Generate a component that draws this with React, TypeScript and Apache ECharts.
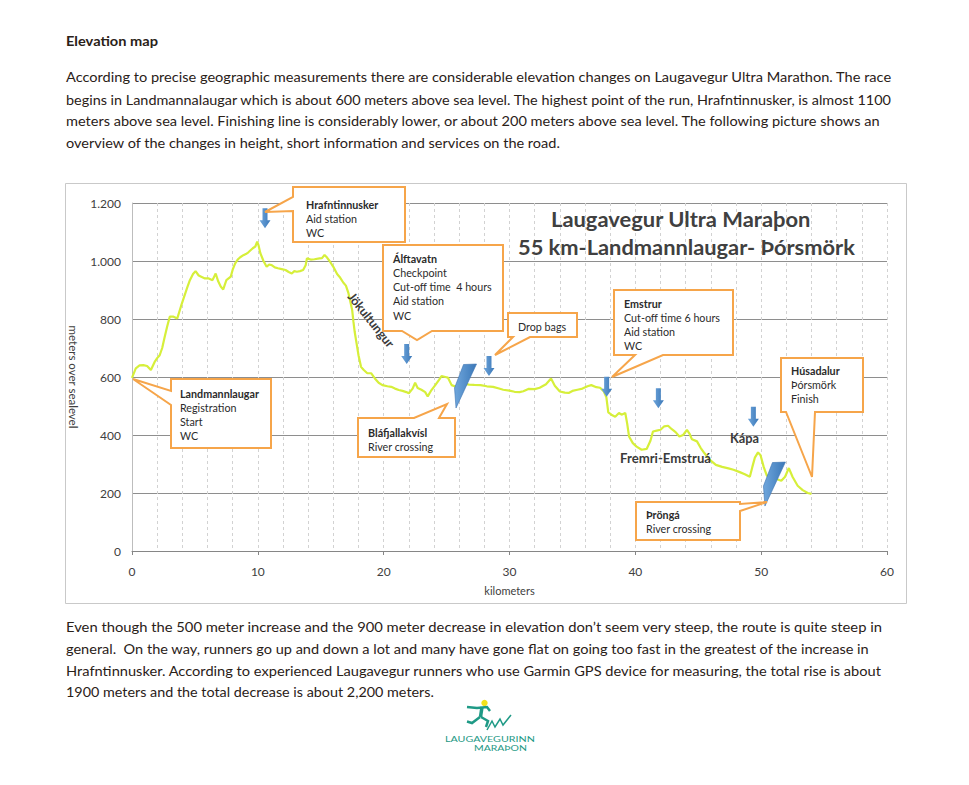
import React, { useEffect, useRef } from "react";
import * as echarts from "echarts";

// ---------- DATA ----------
const kmData = [
  0, 0.3, 0.6, 0.9, 1.2, 1.5, 1.8, 2.0, 2.2, 2.4, 2.6, 2.8, 3.0, 3.3, 3.6, 3.9, 4.1, 4.4, 4.6, 4.85,
  5.05, 5.3, 5.5, 5.8, 6.1, 6.4, 6.65, 6.85, 7.05, 7.25, 7.5, 7.85, 8.0, 8.2, 8.4, 8.6, 8.85, 9.05, 9.25, 9.4,
  9.6, 9.8, 9.95, 10.05, 10.2, 10.45, 10.7, 10.9, 11.1, 11.35, 11.6, 11.9, 12.2, 12.45, 12.7, 12.9, 13.1, 13.35, 13.6, 13.8,
  13.9, 14.2, 14.5, 14.9, 15.1, 15.3, 15.5, 15.7, 16.0, 16.3, 16.5, 16.8, 17.0, 17.2, 17.35, 17.5, 17.6, 17.7, 17.85, 18.0,
  18.2, 18.4, 18.7, 19.0, 19.3, 19.6, 19.9, 20.3, 20.6, 20.9, 21.2, 21.5, 21.8, 22.0, 22.3, 22.5, 22.7, 23.0, 23.3, 23.5,
  23.8, 24.1, 24.4, 24.6, 24.9, 25.1, 25.4, 25.7, 26.0, 26.4, 26.8, 27.2, 27.7, 28.2, 28.7, 29.1, 29.5, 30.0, 30.4, 30.8,
  31.1, 31.5, 32.0, 32.4, 32.9, 33.3, 33.6, 34.0, 34.4, 34.7, 35.0, 35.4, 35.8, 36.2, 36.5, 36.9, 37.2, 37.5, 37.7, 37.85,
  38.1, 38.4, 38.7, 38.9, 39.2, 39.35, 39.5, 39.8, 40.1, 40.5, 40.9, 41.2, 41.4, 41.7, 42.0, 42.3, 42.6, 42.9, 43.2, 43.5,
  43.8, 44.1, 44.3, 44.5, 44.9, 45.2, 45.5, 45.9, 46.4, 46.9, 47.4, 47.8, 48.3, 48.7, 49.1, 49.3, 49.5, 49.75, 49.95, 50.2,
  50.45, 50.8, 51.2, 51.6, 51.9, 52.2, 52.5, 52.9, 53.3, 53.7, 54.0,
];
const elevData = [
  597, 630, 640, 641, 638, 624, 652, 665, 675, 700, 739, 775, 808, 808, 802, 845, 871, 910, 934, 955,
  965, 950, 946, 940, 940, 934, 957, 930, 912, 902, 934, 946, 970, 992, 1005, 1013, 1020, 1024, 1030, 1036,
  1044, 1050, 1067, 1055, 1027, 1000, 980, 988, 986, 978, 975, 972, 969, 962, 957, 965, 963, 965, 969, 985,
  1009, 1005, 1006, 1009, 1010, 1021, 1012, 1000, 980, 955, 945, 925, 915, 889, 860, 830, 790, 755, 715, 675,
  635, 625, 613, 613, 595, 580, 572, 568, 566, 560, 555, 552, 548, 544, 560, 580, 562, 556, 548, 533,
  555, 572, 590, 603, 600, 598, 572, 567, 570, 576, 574, 573, 572, 568, 566, 561, 556, 553, 549, 548,
  551, 559, 558, 563, 575, 595, 570, 550, 546, 545, 552, 556, 560, 568, 572, 565, 563, 550, 530, 478,
  470, 463, 476, 470, 476, 440, 395, 372, 360, 349, 352, 380, 412, 415, 418, 430, 432, 420, 410, 395,
  400, 418, 405, 385, 378, 355, 337, 315, 297, 290, 285, 280, 272, 265, 256, 290, 322, 340, 330, 290,
  260, 255, 248, 242, 256, 286, 255, 225, 210, 200, 197,
];
// service arrows (centre of the arrow, km / m)
const arrowKm = [10.57, 21.83, 28.37, 37.72, 41.83, 49.38];
const arrowElev = [1147, 679, 638, 566, 527, 463];
// river crossings (bottom tip of the marker)
const crossingKm = [25.75, 50.3];
const crossingElev = [493, 155];
const xTickLabels = ["0", "10", "20", "30", "40", "50", "60"];
const yTickLabels = ["0", "200", "400", "600", "800", "1.000", "1.200"];

const introLines = [
  "According to precise geographic measurements there are considerable elevation changes on Laugavegur Ultra Marathon. The race",
  "begins in Landmannalaugar which is about 600 meters above sea level. The highest point of the run, Hrafntinnusker, is almost 1100",
  "meters above sea level. Finishing line is considerably lower, or about 200 meters above sea level. The following picture shows an",
  "overview of the changes in height, short information and services on the road.",
];
const outroLines = [
  "Even though the 500 meter increase and the 900 meter decrease in elevation don\u2019t seem very steep, the route is quite steep in",
  "general.  On the way, runners go up and down a lot and many have gone flat on going too fast in the greatest of the increase in",
  "Hrafntinnusker. According to experienced Laugavegur runners who use Garmin GPS device for measuring, the total rise is about",
  "1900 meters and the total decrease is about 2,200 meters.",
];

const FONT = "Lato";
const TXT = "#2a2118";

let measureCtx: CanvasRenderingContext2D | null = null;
function measure(text: string, size: number, weight: string) {
  if (!measureCtx) measureCtx = document.createElement("canvas").getContext("2d");
  if (!measureCtx) return text.length * size * 0.5;
  measureCtx.font = `${weight} ${size}px ${FONT}`;
  return measureCtx.measureText(text).width;
}

function fitText(text: string, x: number, y: number, width: number, size: number, weight: string, fill: string, align = "left") {
  const natural = measure(text, size, weight);
  const s = width / natural;
  return {
    type: "text",
    x,
    y,
    scaleX: s,
    z: 50,
    style: { text, fill, fontFamily: FONT, fontSize: size, fontWeight: weight, align, verticalAlign: "middle" },
  };
}

const callouts = [
  { lines: ["Hrafntinnusker", "Aid station", "WC"], tx: 306, ty: 204, lh: 14,
    poly: [[293, 187], [405, 187], [405, 242], [293, 242], [293, 211], [265, 212], [293, 197]] },
  { lines: ["\u00C1lftavatn", "Checkpoint", "Cut-off time  4 hours", "Aid station", "WC"], tx: 393, ty: 258, lh: 14.3,
    poly: [[383, 245], [503, 245], [503, 331], [432, 331], [417, 340], [402, 331], [383, 331]] },
  { lines: ["Drop bags"], tx: 518, ty: 326, lh: 14, plain: true,
    poly: [[508, 313], [577, 313], [577, 337], [530, 337], [495, 355], [513, 337], [508, 337]] },
  { lines: ["Emstrur", "Cut-off time 6 hours", "Aid station", "WC"], tx: 624, ty: 303, lh: 14.2,
    poly: [[614, 290], [733, 290], [733, 355], [663, 355], [612, 377], [635, 355], [614, 355]] },
  { lines: ["H\u00FAsadalur", "\u00DE\u00F3rsm\u00F6rk", "Finish"], tx: 791, ty: 370, lh: 14.2,
    poly: [[781, 358], [863, 358], [863, 412], [815, 412], [812, 477], [786, 412], [781, 412]] },
  { lines: ["Landmannlaugar", "Registration", "Start", "WC"], tx: 180, ty: 393, lh: 14,
    poly: [[171, 379], [271, 379], [271, 448], [171, 448], [171, 405], [133, 379], [171, 391]] },
  { lines: ["Bl\u00E1fjallakv\u00EDsl", "River crossing"], tx: 368, ty: 432, lh: 14,
    poly: [[358, 418], [414, 418], [447, 404], [439, 418], [455, 418], [455, 457], [358, 457]] },
  { lines: ["\u00DEr\u00F6ng\u00E1", "River crossing"], tx: 646, ty: 514.5, lh: 14,
    poly: [[636, 502], [740, 502], [740, 504], [767, 502], [740, 511], [740, 540], [636, 540]] },
];

const crossingShape = [[0, 0], [-1.5, -20], [7.5, -43.5], [20.5, -44]];

export default function App() {
  const ref = useRef<HTMLDivElement>(null);

  useEffect(() => {
    if (!ref.current) return;
    const chart = echarts.init(ref.current, null, { renderer: "svg" });

    const calloutScale = 99 / measure("Cut-off time  4 hours", 11, "normal");

    const graphics: any[] = [];
    // chart area border
    graphics.push({ type: "rect", shape: { x: 65.5, y: 183.5, width: 841, height: 420 }, style: { fill: "none", stroke: "#c9c9c9", lineWidth: 1 }, z: 1, silent: true });
    // page texts
    graphics.push(fitText("Elevation map", 66, 41, 92, 14, "bold", TXT));
    const introY = [77, 99.5, 121, 142.5];
    const introW = [827, 827, 816, 495];
    introLines.forEach((t, i) => graphics.push(fitText(t, 66, introY[i], introW[i], 14, "normal", TXT)));
    const outroY = [627, 649, 670.5, 692];
    const outroW = [818, 804, 817, 368];
    outroLines.forEach((t, i) => graphics.push(fitText(t, 66, outroY[i], outroW[i], 14, "normal", TXT)));
    // chart title
    graphics.push(fitText("Laugavegur Ultra Mara\u00FEon", 551, 219, 260, 21, "bold", "#404040"));
    graphics.push(fitText("55 km-Landmannlaugar- \u00DE\u00F3rsm\u00F6rk", 518, 247, 337, 21, "bold", "#404040"));

    // callouts
    callouts.forEach((c) => {
      graphics.push({
        type: "polygon",
        shape: { points: c.poly },
        style: { fill: "#ffffff", stroke: "#f6a54a", lineWidth: 2, lineJoin: "miter" },
        z: 60,
        silent: true,
      });
      c.lines.forEach((line, i) => {
        const bold = i === 0 && !c.plain;
        graphics.push({
          type: "text",
          x: c.tx,
          y: c.ty + i * c.lh,
          scaleX: calloutScale,
          z: 61,
          style: { text: line, fill: "#2b2b2b", fontFamily: FONT, fontSize: 11, fontWeight: bold ? "bold" : "normal", verticalAlign: "middle" },
        });
      });
    });

    // place labels
    graphics.push({
      type: "text", x: 371, y: 320, rotation: -0.9, z: 55,
      style: { text: "J\u00F6kultungur", fill: "#3a3a3a", fontFamily: FONT, fontSize: 12.5, fontWeight: "bold", align: "center", verticalAlign: "middle" },
    });
    graphics.push(fitText("Fremri-Emstru\u00E1", 620, 458, 91, 13, "bold", "#3a3a3a"));
    graphics.push(fitText("K\u00E1pa", 730, 438, 29, 13, "bold", "#3a3a3a"));

    // logo
    const teal = "#1f9a86";
    graphics.push({ type: "circle", shape: { cx: 484.5, cy: 703, r: 3.2 }, style: { fill: "#f4e21c" }, z: 50 });
    graphics.push({ type: "polyline", shape: { points: [[482, 707], [480.5, 717]] }, style: { stroke: teal, lineWidth: 3.5 }, z: 50 });
    graphics.push({ type: "polyline", shape: { points: [[467, 707], [477, 708], [487, 707], [490, 711]] }, style: { stroke: teal, lineWidth: 2.5, fill: "none" }, z: 50 });
    graphics.push({ type: "polyline", shape: { points: [[480, 717], [472, 723], [467, 721.5]] }, style: { stroke: teal, lineWidth: 2.5, fill: "none" }, z: 50 });
    graphics.push({ type: "polyline", shape: { points: [[481, 717], [488, 721], [486, 727]] }, style: { stroke: teal, lineWidth: 2.5, fill: "none" }, z: 50 });
    graphics.push({ type: "polyline", shape: { points: [[487, 730], [492, 721], [495, 727], [500, 719], [503, 725], [511, 715]] }, style: { stroke: teal, lineWidth: 1.5, fill: "none" }, z: 50 });
    graphics.push(fitText("LAUGAVEGURINN", 445, 739, 90, 8, "normal", teal));
    graphics.push(fitText("MARA\u00DEON", 474, 748, 53, 8, "normal", teal));

    const blueGrad = new echarts.graphic.LinearGradient(0, 0, 1, 0, [
      { offset: 0, color: "#6fa6dc" },
      { offset: 1, color: "#3b78b8" },
    ]);

    chart.setOption({
      animation: false,
      backgroundColor: "#ffffff",
      textStyle: { fontFamily: FONT },
      grid: { left: 132, right: 82, top: 203, bottom: 234 },
      xAxis: {
        type: "value",
        min: 0,
        max: 60,
        interval: 10,
        name: "kilometers",
        nameLocation: "middle",
        nameGap: 34,
        nameTextStyle: { color: "#404040", fontSize: 11, fontFamily: FONT },
        axisLine: { show: true, lineStyle: { color: "#868686" } },
        axisTick: { show: true, length: 4, lineStyle: { color: "#868686" } },
        axisLabel: { color: "#404040", fontSize: 12, margin: 14, fontFamily: FONT, formatter: (v: number) => xTickLabels[Math.round(v / 10)] },
        splitLine: { show: true, lineStyle: { color: "#d2d2d2", type: [3, 3] } },
        minorTick: { show: false, splitNumber: 5 },
        minorSplitLine: { show: true, lineStyle: { color: "#d2d2d2", type: [3, 3] } },
      },
      yAxis: {
        type: "value",
        min: 0,
        max: 1200,
        interval: 200,
        name: "meters over sealevel",
        nameLocation: "middle",
        nameRotate: -90,
        nameGap: 52,
        nameTextStyle: { color: "#404040", fontSize: 11.5, fontFamily: FONT },
        axisLine: { show: true, lineStyle: { color: "#bdbdbd" } },
        axisTick: { show: false },
        axisLabel: { color: "#404040", fontSize: 12, margin: 11, fontFamily: FONT, formatter: (v: number) => yTickLabels[Math.round(v / 200)] },
        splitLine: { show: true, lineStyle: { color: "#8e8e8e", width: 1 } },
      },
      series: [
        {
          type: "line",
          data: kmData.map((k, i) => [k, elevData[i]]),
          showSymbol: false,
          lineStyle: { color: "#d6ef3a", width: 2.2 },
          z: 3,
        },
        {
          type: "custom",
          data: crossingKm.map((k, i) => [k, crossingElev[i]]),
          renderItem: (params: any, api: any) => {
            const p = api.coord([api.value(0), api.value(1)]);
            return {
              type: "polygon",
              shape: { points: crossingShape.map(([dx, dy]) => [p[0] + dx, p[1] + dy]) },
              style: { fill: blueGrad, stroke: "#3a72b0", lineWidth: 0.6 },
            };
          },
          z: 5,
        },
        {
          type: "scatter",
          data: arrowKm.map((k, i) => [k, arrowElev[i]]),
          symbol: "path://M3,0 L8,0 L8,12 L11,12 L5.5,20 L0,12 L3,12 Z",
          symbolSize: [11, 20],
          itemStyle: { color: blueGrad, opacity: 1 },
          z: 6,
        },
      ],
      graphic: graphics,
    });

    return () => chart.dispose();
  }, []);

  return <div ref={ref} style={{ position: "absolute", left: 0, top: 0, width: 969, height: 785, background: "#fff" }} />;
}
